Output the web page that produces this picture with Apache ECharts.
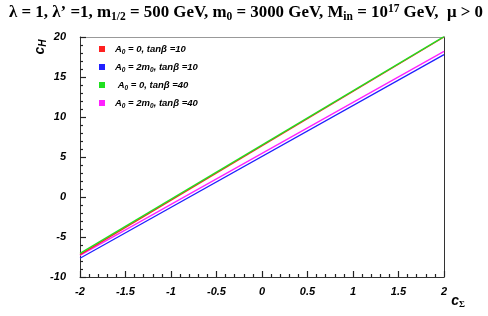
<!DOCTYPE html>
<html><head><meta charset="utf-8">
<script src="https://cdn.jsdelivr.net/npm/echarts@6/dist/echarts.min.js"></script>
<style>html,body{margin:0;padding:0;background:#fff}#c{width:488px;height:316px}</style>
</head><body><div id="c"></div>
<script>
const xEnds = [-2, 2];
const seriesNames = ['A0 = 0, tanβ =10', 'A0 = 2m0, tanβ =10', 'A0 = 0, tanβ =40', 'A0 = 2m0, tanβ =40'];
const seriesColors = ['#ff2020', '#2020ff', '#20e020', '#ff20ff'];
const redVals = [-7.2, 20.0];
const blueVals = [-7.65, 17.8];
const greenVals = [-7.05, 20.05];
const magentaVals = [-7.3, 18.2];
const xTicks = [-2, -1.5, -1, -0.5, 0, 0.5, 1, 1.5, 2];
const yTicks = [-10, -5, 0, 5, 10, 15, 20];

const chart = echarts.init(document.getElementById('c'));
const valsList = [redVals, blueVals, greenVals, magentaVals];
const drawOrder = [1, 3, 0, 2];
const series = drawOrder.map(i => ({
  type: 'line', name: seriesNames[i], showSymbol: false, symbol: 'none',
  lineStyle: {color: seriesColors[i], width: 1.3}, itemStyle: {color: seriesColors[i]},
  data: xEnds.map((x, k) => [x, valsList[i][k]])
}));
const mkTickFont = () => ({fontFamily: 'Liberation Sans', fontWeight: 'bold', fontStyle: 'italic', fontSize: 11, color: '#000'});
const legendText = [
  ['A', '0', ' = 0, tanβ =10'],
  ['A', '0', ' = 2m', '0', ', tanβ =10'],
  [' A', '0', ' = 0, tanβ =40'],
  ['A', '0', ' = 2m', '0', ', tanβ =40']
];
const legendGraphics = [];
[0, 1, 2, 3].forEach((i, k) => {
  const y = 49 + k * 18;
  legendGraphics.push({type: 'rect', shape: {x: 99, y: y - 3, width: 6, height: 6}, style: {fill: seriesColors[i]}});
  const parts = legendText[i].map((p, j) => (j % 2 === 1) ? '{s|' + p + '}' : '{n|' + p + '}').join('');
  legendGraphics.push({type: 'text', x: 115, y: y, style: {
    text: parts, verticalAlign: 'middle',
    rich: {
      n: {fontFamily: 'Liberation Sans', fontWeight: 'bold', fontStyle: 'italic', fontSize: 9.5, fill: '#000'},
      s: {fontFamily: 'Liberation Sans', fontWeight: 'bold', fontStyle: 'italic', fontSize: 6.5, fill: '#000', padding: [6, 0, 0, 0]}
    }}});
});
const titleRich = {
  n: {fontFamily: 'Liberation Serif', fontWeight: 'bold', fontSize: 16.9, fill: '#000'},
  s: {fontFamily: 'Liberation Serif', fontWeight: 'bold', fontSize: 11.5, fill: '#000', padding: [9, 0, 0, 0]},
  p: {fontFamily: 'Liberation Serif', fontWeight: 'bold', fontSize: 11.5, fill: '#000', padding: [0, 0, 8, 0]}
};
const titleStr = '{n|λ = 1, λ\u2019 =1, m}{s|1/2}{n| = 500 GeV, m}{s|0}{n| = 3000 GeV, M}{s|in}{n| = 10}{p|17}{n| GeV,  μ > 0}';
const mkMain = () => ({
  axisLine: {show: true, onZero: false, lineStyle: {color: '#333', width: 1}},
  axisTick: {show: true, inside: true, interval: 0, length: 6, lineStyle: {color: '#222', width: 1.2}},
  minorTick: {show: true, splitNumber: 5, length: 3, lineStyle: {color: '#222', width: 1.2}},
  splitLine: {show: false}
});
const mkBorder = (color) => ({
  axisLine: {show: true, onZero: false, lineStyle: {color: color, width: 1}},
  axisTick: {show: false}, minorTick: {show: false}, axisLabel: {show: false},
  splitLine: {show: false}
});
chart.setOption({
  animation: false,
  grid: {left: 80, right: 44, top: 37, bottom: 39},
  xAxis: [
    Object.assign({type: 'value', min: xTicks[0], max: xTicks[xTicks.length - 1], interval: 0.5, position: 'bottom',
      axisLabel: Object.assign({margin: 9}, mkTickFont())}, mkMain()),
    Object.assign({type: 'value', min: xTicks[0], max: xTicks[xTicks.length - 1], position: 'top'}, mkBorder('#999'))
  ],
  yAxis: [
    Object.assign({type: 'value', min: yTicks[0], max: yTicks[yTicks.length - 1], interval: 5, position: 'left',
      axisLabel: Object.assign({margin: 14}, mkTickFont())}, mkMain()),
    Object.assign({type: 'value', min: yTicks[0], max: yTicks[yTicks.length - 1], position: 'right'}, mkBorder('#333'))
  ],
  series: series,
  graphic: [
    {type: 'text', x: 246, y: 13, style: {text: titleStr, align: 'center', verticalAlign: 'middle', rich: titleRich}},
    {type: 'text', x: 40, y: 47, rotation: Math.PI / 2, style: {
      text: '{a|c}{b|H}', align: 'center', verticalAlign: 'middle',
      rich: {a: {fontFamily: 'Liberation Sans', fontWeight: 'bold', fontStyle: 'italic', fontSize: 14, fill: '#000'},
             b: {fontFamily: 'Liberation Sans', fontWeight: 'bold', fontStyle: 'italic', fontSize: 10, fill: '#000', padding: [7, 0, 0, 0]}}}},
    {type: 'text', x: 458, y: 301, style: {
      text: '{a|c}{b|Σ}', align: 'center', verticalAlign: 'middle',
      rich: {a: {fontFamily: 'Liberation Sans', fontWeight: 'bold', fontStyle: 'italic', fontSize: 14, fill: '#000'},
             b: {fontFamily: 'Liberation Serif', fontWeight: 'bold', fontSize: 9, fill: '#000', padding: [7, 0, 0, 0]}}}}
  ].concat(legendGraphics)
});
</script></body></html>
